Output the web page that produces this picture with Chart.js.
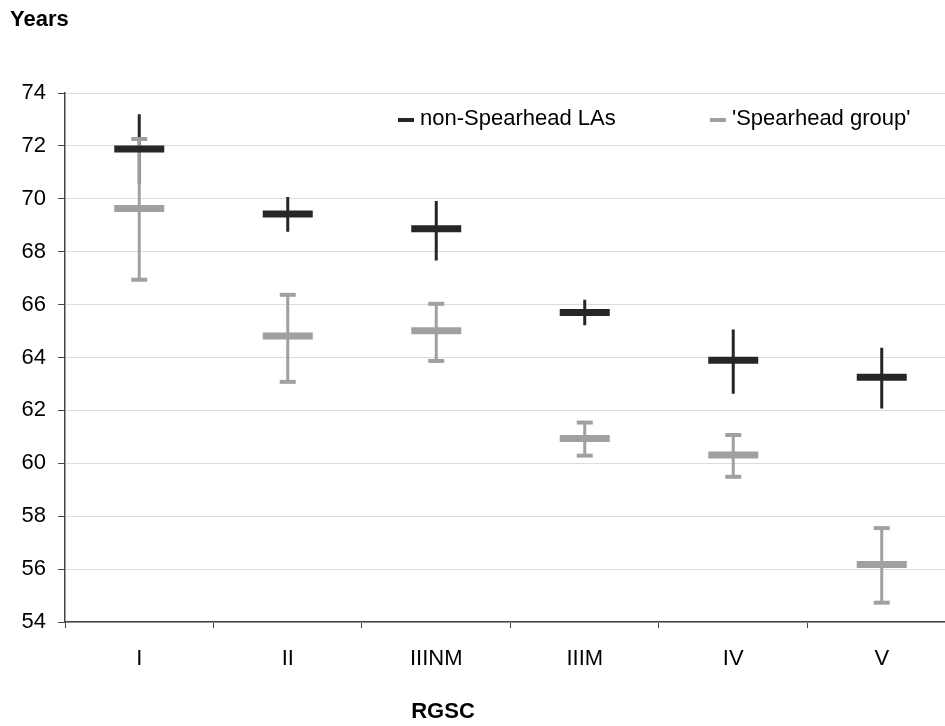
<!DOCTYPE html>
<html lang="en">
<head>
    <meta charset="UTF-8">
    <title>Life expectancy by RGSC</title>
    <script src="https://cdn.jsdelivr.net/npm/chart.js"></script>
    <style>
        body {
            margin: 0;
            background: white;
        }
        canvas {
            display: block;
        }
    </style>
</head>
<body>
    <canvas id="rgscChart" width="945" height="726"></canvas>

    <script>
        // categories on the x axis
        const categories = ['I', 'II', 'IIINM', 'IIIM', 'IV', 'V'];

        // non-Spearhead LAs: mean and error range (years)
        const nonMean = [71.88, 69.43, 68.87, 65.70, 63.90, 63.25];
        const nonLow  = [70.56, 68.75, 67.67, 65.22, 62.63, 62.07];
        const nonHigh = [73.20, 70.07, 69.92, 66.18, 65.06, 64.37];

        // 'Spearhead group': mean and error range (years)
        const spMean = [69.63, 64.81, 65.01, 60.94, 60.31, 56.17];
        const spLow  = [66.94, 63.08, 63.87, 60.29, 59.49, 54.73];
        const spHigh = [72.26, 66.37, 66.03, 61.54, 61.07, 57.55];

        const seriesNames = ['non-Spearhead LAs', "'Spearhead group'"];
        const yMin = 54, yMax = 74, yStep = 2;

        const DARK = '#262626';
        const GREY = '#a0a0a0';
        const FONT = 'Arial, "Liberation Sans", sans-serif';

        const points = arr => arr.map((v, i) => ({ x: i, y: v }));
        // vertical error lines: low -> high, broken by a null between categories
        const errLines = (lo, hi) => {
            const out = [];
            lo.forEach((v, i) => {
                out.push({ x: i, y: v }, { x: i, y: hi[i] }, { x: i, y: null });
            });
            return out;
        };

        const textPlugin = {
            id: 'texts',
            afterDraw(chart) {
                const ctx = chart.ctx;
                ctx.save();
                ctx.fillStyle = '#000';
                ctx.textBaseline = 'middle';
                ctx.font = 'bold 22px ' + FONT;
                ctx.textAlign = 'left';
                ctx.fillText('Years', 10, 20);
                ctx.textAlign = 'center';
                ctx.fillText('RGSC', 443, 712);

                // legend
                ctx.font = '22px ' + FONT;
                ctx.textAlign = 'left';
                const items = [
                    { x: 398, color: DARK, label: seriesNames[0] },
                    { x: 710, color: GREY, label: seriesNames[1] }
                ];
                items.forEach(it => {
                    ctx.strokeStyle = it.color;
                    ctx.lineWidth = 4;
                    ctx.beginPath();
                    ctx.moveTo(it.x, 120);
                    ctx.lineTo(it.x + 16, 120);
                    ctx.stroke();
                    ctx.fillStyle = '#000';
                    ctx.fillText(it.label, it.x + 22, 119);
                });
                ctx.restore();
            }
        };

        new Chart(document.getElementById('rgscChart'), {
            type: 'scatter',
            data: {
                datasets: [
                    {
                        label: seriesNames[0],
                        data: points(nonMean),
                        pointStyle: 'line',
                        pointRadius: 25,
                        pointHoverRadius: 25,
                        borderWidth: 7,
                        pointBorderWidth: 7,
                        borderColor: DARK,
                        backgroundColor: DARK
                    },
                    {
                        label: seriesNames[1],
                        data: points(spMean),
                        pointStyle: 'line',
                        pointRadius: 25,
                        pointHoverRadius: 25,
                        borderWidth: 7,
                        pointBorderWidth: 7,
                        borderColor: GREY,
                        backgroundColor: GREY
                    },
                    {
                        label: 'caps',
                        data: points(spLow).concat(points(spHigh)),
                        pointStyle: 'line',
                        pointRadius: 8,
                        pointHoverRadius: 8,
                        pointBorderWidth: 4,
                        borderColor: GREY,
                        backgroundColor: GREY
                    },
                    {
                        label: 'sp error',
                        data: errLines(spLow, spHigh),
                        showLine: true,
                        spanGaps: false,
                        pointRadius: 0,
                        borderWidth: 3,
                        borderColor: GREY
                    },
                    {
                        label: 'non error',
                        data: errLines(nonLow, nonHigh),
                        showLine: true,
                        spanGaps: false,
                        pointRadius: 0,
                        borderWidth: 3,
                        borderColor: DARK
                    }
                ]
            },
            options: {
                responsive: false,
                animation: false,
                layout: {
                    autoPadding: false,
                    padding: { top: 93, left: 0, right: 0, bottom: 0 }
                },
                plugins: {
                    legend: { display: false },
                    tooltip: { enabled: false }
                },
                scales: {
                    x: {
                        type: 'linear',
                        min: -0.5,
                        max: 5.426,
                        afterBuildTicks(scale) {
                            const t = [];
                            for (let v = -0.5; v <= 5; v += 0.5) t.push({ value: v });
                            scale.ticks = t;
                        },
                        afterFit(scale) {
                            scale.height = 104;
                            scale.paddingLeft = 0;
                            scale.paddingRight = 0;
                        },
                        grid: {
                            drawOnChartArea: false,
                            tickLength: 6,
                            tickColor: ctx => Number.isInteger(ctx.tick.value) ? 'rgba(0,0,0,0)' : '#444'
                        },
                        border: { color: '#444', width: 1.5 },
                        ticks: {
                            autoSkip: false,
                            maxRotation: 0,
                            padding: 18,
                            color: '#000',
                            font: { size: 22, family: FONT },
                            callback: v => Number.isInteger(v) ? categories[v] : ''
                        }
                    },
                    y: {
                        min: yMin,
                        max: yMax,
                        afterFit(scale) { scale.width = 65; },
                        grid: {
                            color: '#dcdcdc',
                            tickColor: '#444',
                            tickLength: 7
                        },
                        border: { color: '#444', width: 1.5 },
                        ticks: {
                            stepSize: yStep,
                            padding: 12,
                            color: '#000',
                            font: { size: 22, family: FONT }
                        }
                    }
                }
            },
            plugins: [textPlugin]
        });
    </script>
</body>
</html>
